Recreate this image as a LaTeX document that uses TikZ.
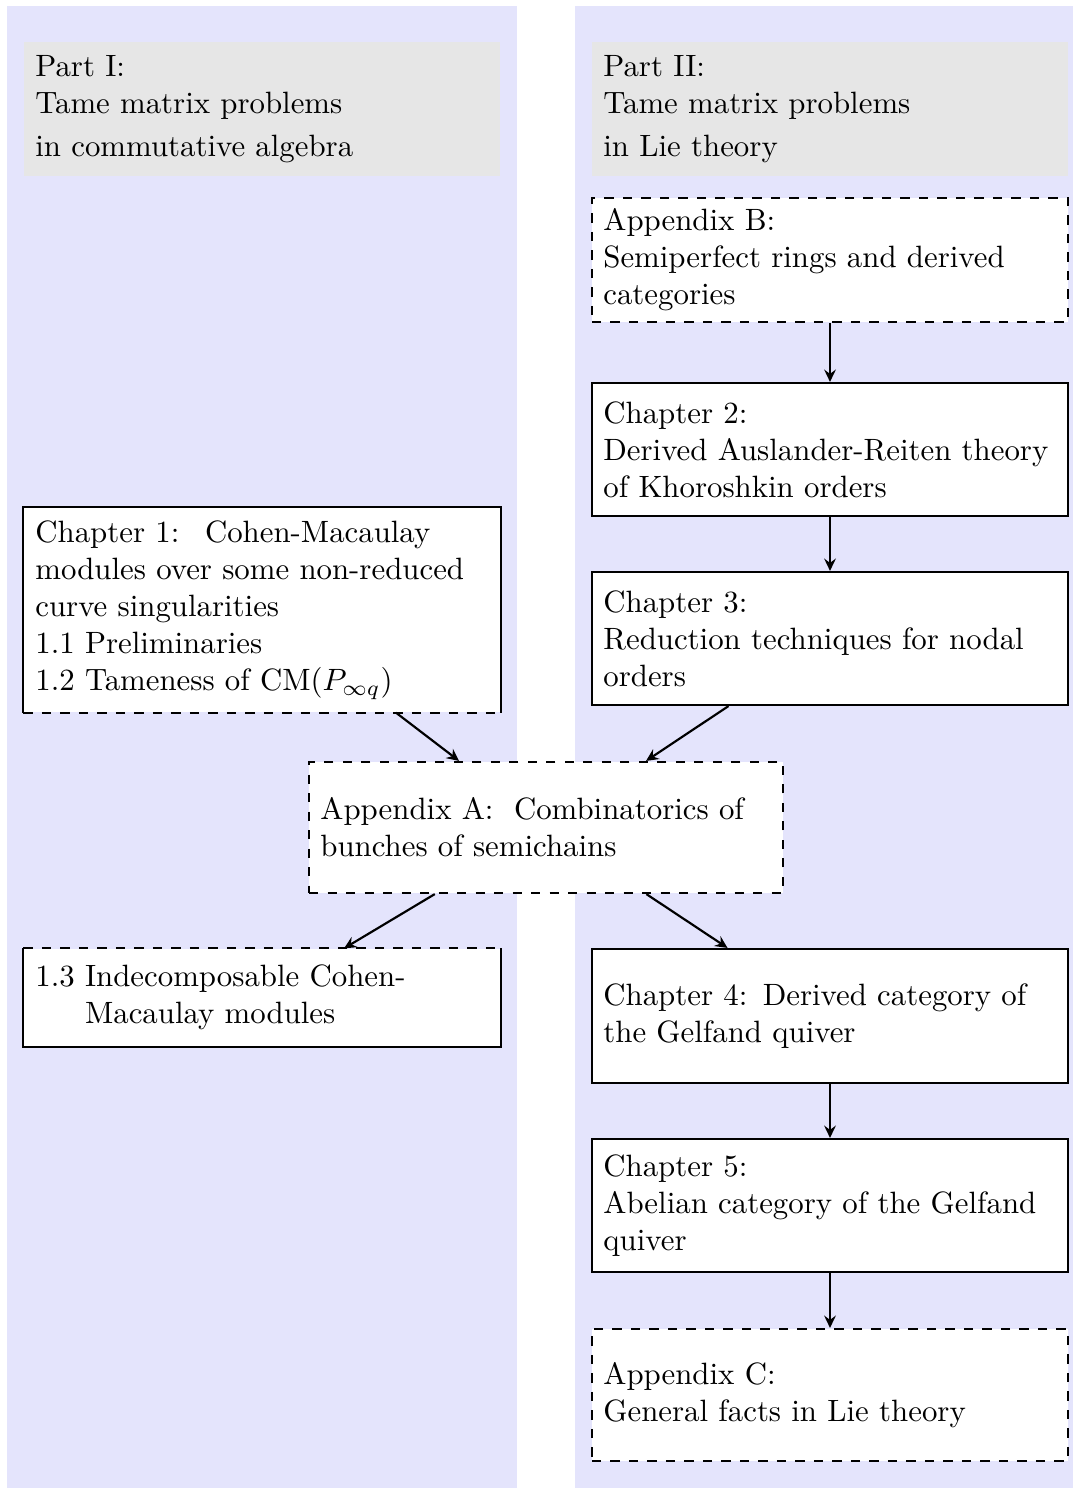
\documentclass[tikz,border=0pt]{standalone}
\usetikzlibrary{arrows.meta}
\definecolor{colbg}{RGB}{228,228,252}
\definecolor{headbg}{RGB}{230,230,230}
\begin{document}
\begin{tikzpicture}[x=0.32432pt,y=-0.32432pt,
  base/.style={text width=147pt, inner xsep=3.7pt, align=left, anchor=center},
  head/.style={base, fill=headbg, minimum height=134*0.32432pt},
  sbox/.style={base, draw, line width=0.7pt, fill=white},
  dbox/.style={sbox, dashed},
  plainbox/.style={base, fill=white},
  edge/.style={line width=0.7pt},
  arr/.style={line width=0.7pt, -{Stealth[length=4pt,width=3.8pt,inset=1.4pt]}},
  h/.style={minimum height=#1*0.32432pt}]
\useasboundingbox (0,0) rectangle (1073,1488);
% two column backgrounds
\fill[colbg] (7,6) rectangle (517,1488);
\fill[colbg] (575,6) rectangle (1073,1488);

% column headers
\node[head] (p1) at (262,109) {Part I:\\Tame matrix problems\\[2pt]in commutative algebra};
\node[head] (p2) at (830,109) {Part II:\\Tame matrix problems\\[2pt]in Lie theory};

% right column
\node[dbox, h=124] (appB) at (830,260) {Appendix B:\\Semiperfect rings and derived\\categories};
\node[sbox, h=133] (ch2) at (830,449.5) {Chapter 2:\\Derived Auslander-Reiten theory\\of Khoroshkin orders};
\node[sbox, h=133] (ch3) at (830,638.5) {Chapter 3:\\Reduction techniques for nodal\\orders};
\node[sbox, h=134] (ch4) at (830,1016) {Chapter 4: Derived category of\\the Gelfand quiver};
\node[sbox, h=133] (ch5) at (830,1205.5) {Chapter 5:\\Abelian category of the Gelfand\\quiver};
\node[dbox, h=132] (appC) at (830,1395) {Appendix C:\\General facts in Lie theory};

% left column: chapter 1 split into two parts
\node[plainbox, h=204] (ch1) at (262,610) {Chapter 1: \ Cohen-Macaulay\\modules over some non-reduced\\curve singularities\\1.1 Preliminaries\\1.2 Tameness of CM$(P_{\infty q})$};
\draw[edge] (ch1.south west) -- (ch1.north west) -- (ch1.north east) -- (ch1.south east);
\draw[edge, dashed] (ch1.south west) -- (ch1.south east);

\node[plainbox, h=97] (s13) at (262,997.5) {1.3 Indecomposable Cohen-\\\hphantom{1.3\ }Macaulay modules};
\draw[edge] (s13.north west) -- (s13.south west) -- (s13.south east) -- (s13.north east);
\draw[edge, dashed] (s13.north west) -- (s13.north east);

% shared appendix
\node[dbox, h=131, text width=146.3pt] (appA) at (546,827.5) {Appendix A: \ Combinatorics of\\bunches of semichains};

% dependencies
\draw[arr] (appB) -- (ch2);
\draw[arr] (ch2) -- (ch3);
\draw[arr] (ch1) -- (appA);
\draw[arr] (ch3) -- (appA);
\draw[arr] (appA) -- (s13);
\draw[arr] (appA) -- (ch4);
\draw[arr] (ch4) -- (ch5);
\draw[arr] (ch5) -- (appC);
\end{tikzpicture}
\end{document}
